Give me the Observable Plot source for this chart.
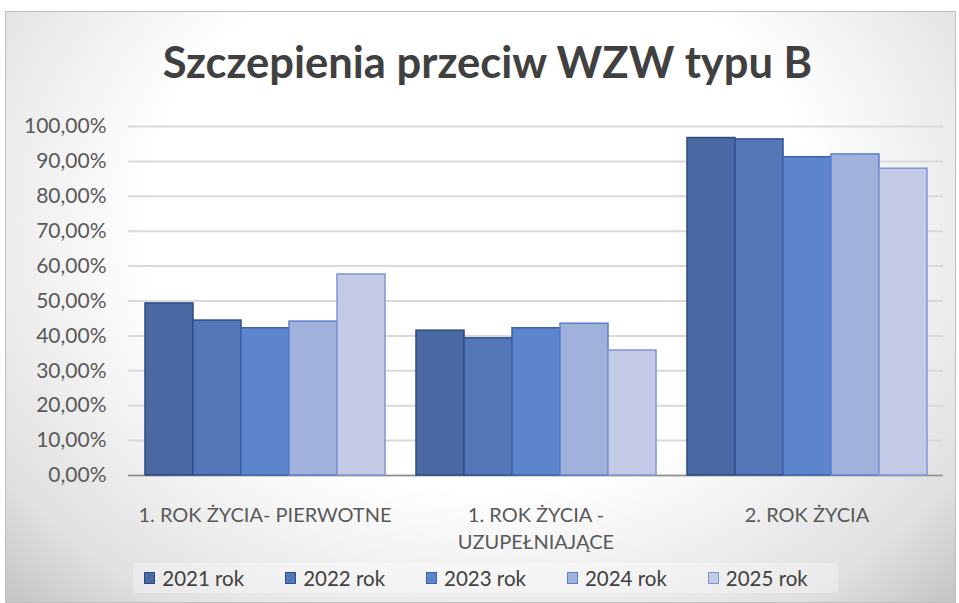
<!DOCTYPE html>
<html>
<head>
<meta charset="utf-8">
<script src="https://cdn.jsdelivr.net/npm/d3@7"></script>
<script src="https://cdn.jsdelivr.net/npm/@observablehq/plot@0.6"></script>
<style>
  html, body { margin: 0; padding: 0; background: #ffffff; }
  #frame {
    position: absolute; left: 5px; top: 11px; width: 951px; height: 592px;
    border: 1px solid #bfbfbf; box-sizing: border-box;
    background: radial-gradient(ellipse farthest-corner at 50% 35%, #ffffff 50%, #e0e0e0 85%, #c4c4c4 100%);
    overflow: hidden;
  }
  #title {
    position: absolute; left: 8px; top: 11px; width: 959px; text-align: center;
    font-family: Lato, "Open Sans", sans-serif; font-weight: 700; font-size: 43.5px;
    color: #404040; line-height: 100px;
  }
  .layer { position: absolute; left: 0; top: 100px; }
  #legend {
    position: absolute; left: 6px; top: 563px; width: 959px; height: 30px;
    display: flex; justify-content: center; gap: 0px;
    font-family: Lato, "Open Sans", sans-serif; font-size: 20.5px; color: #404040;
  }
  .item { display: flex; align-items: center; padding: 0 30px 0 11px; background: rgba(255,255,255,0.3); height: 30px; }
  .sw { width: 11px; height: 12px; margin-right: 7px; border: 1.5px solid; box-sizing: border-box; }
</style>
</head>
<body>
<div id="frame"></div>
<div id="title">Szczepienia przeciw WZW typu B</div>
<div id="bg" class="layer"></div>
<div id="fg" class="layer"></div>
<div id="legend"></div>
<script>
// ---- data ----
const groups = ["1. ROK ŻYCIA- PIERWOTNE", "1. ROK ŻYCIA - UZUPEŁNIAJĄCE", "2. ROK ŻYCIA"];
const groupLabels = ["1. ROK ŻYCIA- PIERWOTNE", "1. ROK ŻYCIA -\nUZUPEŁNIAJĄCE", "2. ROK ŻYCIA"];
const years = ["2021 rok", "2022 rok", "2023 rok", "2024 rok", "2025 rok"];
const v2021 = [0.493, 0.415, 0.967];
const v2022 = [0.444, 0.393, 0.963];
const v2023 = [0.422, 0.422, 0.912];
const v2024 = [0.441, 0.435, 0.920];
const v2025 = [0.576, 0.358, 0.879];
const yTicks = [0, 0.1, 0.2, 0.3, 0.4, 0.5, 0.6, 0.7, 0.8, 0.9, 1.0];
const fills = ["#4a69a3", "#5477b7", "#5c85cc", "#a0b1dc", "#c2cae6"];
const strokes = ["#2c4a82", "#2f5090", "#3c62ad", "#5d80cc", "#7f95d3"];

const series = [v2021, v2022, v2023, v2024, v2025];
const data = [];
years.forEach((yr, i) => groups.forEach((g, j) => data.push({year: yr, group: g, value: series[i][j]})));

const W = 959, H = 460;
const common = {width: W, height: H, marginLeft: 128, marginRight: 16, marginTop: 26, marginBottom: 85};
const fmt = d => (d * 100).toFixed(2).replace(".", ",") + "%";
const font = "Lato, 'Open Sans', sans-serif";

const bg = Plot.plot({
  ...common,
  style: {background: "transparent", color: "#595959", fontFamily: font, overflow: "visible"},
  y: {domain: [0, 1]},
  marks: [
    Plot.gridY(yTicks, {stroke: "#d9d9d9", strokeOpacity: 1, strokeWidth: 2}),
    Plot.ruleY([0], {stroke: "#8c8c8c", strokeWidth: 1.5}),
    Plot.axisY({ticks: yTicks, tickFormat: fmt, tickSize: 0, tickPadding: 22, fontSize: 21, label: null})
  ]
});
document.getElementById("bg").appendChild(bg);

const fg = Plot.plot({
  ...common,
  style: {background: "transparent", color: "#595959", fontFamily: font, overflow: "visible"},
  fx: {domain: groups, paddingInner: 0.11, paddingOuter: 0.055, label: null},
  x: {domain: years, padding: 0, axis: null},
  y: {domain: [0, 1], axis: null},
  marks: [
    ...years.map((yr, i) => Plot.barY(data.filter(d => d.year === yr), {
      fx: "group", x: "year", y: "value", fill: fills[i], stroke: strokes[i], strokeWidth: 1.5, inset: 0
    })),
    Plot.axisFx({anchor: "bottom", tickSize: 0, tickPadding: 27, fontSize: 20, lineHeight: 1.35,
      tickFormat: d => groupLabels[groups.indexOf(d)], label: null})
  ]
});
document.getElementById("fg").appendChild(fg);

const legend = document.getElementById("legend");
years.forEach((yr, i) => {
  const it = document.createElement("div");
  it.className = "item";
  const sw = document.createElement("span");
  sw.className = "sw";
  sw.style.background = fills[i];
  sw.style.borderColor = strokes[i];
  const t = document.createElement("span");
  t.textContent = yr;
  it.appendChild(sw); it.appendChild(t);
  legend.appendChild(it);
});
</script>
</body>
</html>
